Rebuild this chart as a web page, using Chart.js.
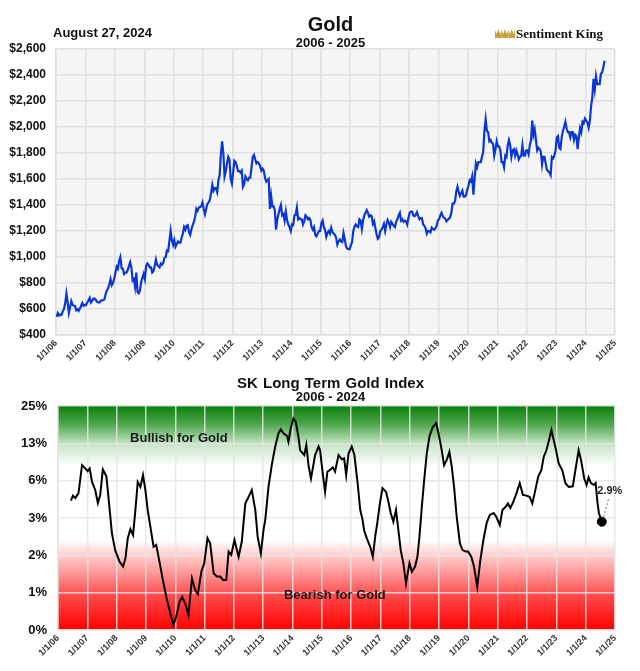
<!DOCTYPE html>
<html>
<head>
<meta charset="utf-8">
<script src="https://cdn.jsdelivr.net/npm/chart.js@4.4.1/dist/chart.umd.min.js"></script>
<style>
  body { margin: 0; background: #fff; }
  canvas { display: block; }
</style>
</head>
<body>
<canvas id="goldChart" width="640" height="365"></canvas>
<canvas id="indexChart" width="640" height="306"></canvas>
<script>
// gold, twice a month (mid / end of month) from Jan 2006 to Aug 2024
const goldStartYear = 2006;
const goldPrices = [
  540, 569, 550, 556, 555, 582, 600, 644, 720, 653, 570, 613, 660, 632, 625, 623, 590, 599, 585, 603, 625, 646, 625, 632,
  630, 650, 665, 685, 650, 662, 680, 680, 670, 655, 650, 650, 665, 665, 670, 673, 715, 743, 760, 790, 830, 783, 800, 834,
  880, 925, 910, 970, 1000, 915, 910, 870, 880, 880, 900, 930, 960, 920, 820, 830, 770, 880, 730, 720, 740, 810, 840, 870,
  830, 930, 950, 940, 920, 920, 880, 890, 930, 980, 940, 930, 920, 950, 940, 955, 995, 1000, 1050, 1045, 1120, 1200, 1130, 1095,
  1130, 1080, 1100, 1120, 1110, 1110, 1150, 1180, 1230, 1210, 1240, 1245, 1190, 1170, 1215, 1245, 1270, 1310, 1370, 1355, 1380, 1385, 1390, 1420,
  1370, 1330, 1370, 1410, 1420, 1440, 1490, 1555, 1510, 1530, 1530, 1500, 1590, 1630, 1790, 1890, 1800, 1620, 1660, 1720, 1770, 1750, 1600, 1565,
  1650, 1740, 1730, 1700, 1660, 1660, 1650, 1665, 1540, 1560, 1620, 1600, 1590, 1610, 1610, 1690, 1770, 1785, 1750, 1720, 1730, 1720, 1700, 1665,
  1680, 1665, 1610, 1580, 1590, 1600, 1370, 1470, 1390, 1390, 1360, 1210, 1290, 1330, 1370, 1400, 1320, 1330, 1280, 1350, 1285, 1250, 1230, 1200,
  1250, 1245, 1320, 1325, 1380, 1290, 1300, 1290, 1290, 1250, 1275, 1320, 1310, 1290, 1300, 1285, 1230, 1210, 1230, 1170, 1160, 1180, 1200, 1200,
  1260, 1280, 1230, 1210, 1155, 1185, 1200, 1180, 1225, 1190, 1180, 1170, 1150, 1095, 1120, 1135, 1120, 1115, 1185, 1140, 1085, 1065, 1060, 1060,
  1090, 1115, 1200, 1235, 1250, 1235, 1230, 1290, 1280, 1215, 1280, 1320, 1340, 1360, 1340, 1310, 1320, 1315, 1255, 1275, 1225, 1175, 1140, 1150,
  1200, 1210, 1230, 1255, 1200, 1250, 1285, 1265, 1230, 1270, 1255, 1240, 1230, 1270, 1290, 1320, 1340, 1280, 1290, 1270, 1280, 1275, 1250, 1300,
  1340, 1350, 1350, 1320, 1315, 1325, 1345, 1315, 1290, 1300, 1300, 1250, 1240, 1220, 1180, 1200, 1200, 1190, 1225, 1215, 1210, 1220, 1240, 1280,
  1290, 1320, 1340, 1315, 1300, 1295, 1275, 1285, 1295, 1305, 1340, 1410, 1410, 1430, 1500, 1540, 1500, 1470, 1490, 1510, 1465, 1465, 1475, 1520,
  1550, 1590, 1580, 1620, 1480, 1600, 1720, 1690, 1730, 1730, 1730, 1770, 1810, 1975, 2060, 1970, 1960, 1890, 1900, 1880, 1870, 1780, 1830, 1890,
  1850, 1850, 1820, 1730, 1730, 1690, 1780, 1770, 1860, 1900, 1860, 1770, 1820, 1830, 1780, 1820, 1790, 1750, 1770, 1780, 1860, 1780, 1780, 1820,
  1820, 1790, 1860, 1900, 2050, 1940, 1980, 1900, 1820, 1840, 1830, 1810, 1710, 1770, 1770, 1720, 1670, 1660, 1650, 1630, 1770, 1760, 1780, 1820,
  1920, 1930, 1840, 1830, 1920, 1970, 2000, 2040, 1990, 1960, 1960, 1920, 1960, 1960, 1900, 1940, 1930, 1830, 1920, 1990, 1960, 2040, 2030, 2065,
  2050, 2035, 1995, 2045, 2160, 2230, 2370, 2290, 2390, 2330, 2330, 2330, 2410, 2420, 2460, 2510
];

// SK long term gold index (decimal year, percent)
const indexDates = [
  2006.44, 2006.51, 2006.59, 2006.70, 2006.82, 2006.93, 2007.01, 2007.08, 2007.16, 2007.27,
  2007.36, 2007.44, 2007.53, 2007.65, 2007.73, 2007.84, 2007.95, 2008.10, 2008.22, 2008.30,
  2008.38, 2008.47, 2008.56, 2008.64, 2008.72, 2008.81, 2008.90, 2008.98, 2009.06, 2009.15,
  2009.26, 2009.35, 2009.47, 2009.60, 2009.72, 2009.83, 2009.94, 2010.03, 2010.15, 2010.24,
  2010.34, 2010.45, 2010.57, 2010.68, 2010.77, 2010.89, 2010.99, 2011.10, 2011.19, 2011.31,
  2011.42, 2011.53, 2011.63, 2011.74, 2011.82, 2011.91, 2012.02, 2012.16, 2012.27, 2012.39,
  2012.50, 2012.61, 2012.73, 2012.81, 2012.92, 2013.01, 2013.07, 2013.18, 2013.30, 2013.41,
  2013.52, 2013.60, 2013.69, 2013.81, 2013.86, 2013.94, 2014.03, 2014.11, 2014.20, 2014.26,
  2014.40, 2014.47, 2014.55, 2014.63, 2014.77, 2014.89, 2014.94, 2015.03, 2015.11, 2015.19,
  2015.28, 2015.37, 2015.45, 2015.57, 2015.68, 2015.76, 2015.83, 2015.91, 2016.02, 2016.11,
  2016.22, 2016.31, 2016.39, 2016.44, 2016.53, 2016.65, 2016.74, 2016.82, 2016.89, 2016.98,
  2017.07, 2017.19, 2017.27, 2017.35, 2017.44, 2017.53, 2017.61, 2017.69, 2017.78, 2017.87,
  2017.99, 2018.07, 2018.18, 2018.26, 2018.33, 2018.41, 2018.49, 2018.58, 2018.67, 2018.78,
  2018.90, 2018.98, 2019.09, 2019.17, 2019.26, 2019.35, 2019.43, 2019.51, 2019.60, 2019.71,
  2019.80, 2019.91, 2019.99, 2020.10, 2020.19, 2020.30, 2020.40, 2020.51, 2020.62, 2020.73,
  2020.86, 2020.95, 2021.07, 2021.16, 2021.27, 2021.35, 2021.43, 2021.53, 2021.64, 2021.75,
  2021.86, 2021.98, 2022.09, 2022.18, 2022.26, 2022.38, 2022.49, 2022.57, 2022.66, 2022.75,
  2022.83, 2022.88, 2022.99, 2023.08, 2023.20, 2023.31, 2023.42, 2023.56, 2023.65, 2023.76,
  2023.84, 2023.95, 2024.03, 2024.10, 2024.18, 2024.28, 2024.34, 2024.40, 2024.45, 2024.55
];
const indexValues = [
  4.4, 4.8, 4.6, 5.0, 8.9, 8.3, 7.8, 8.3, 5.9, 5.25,
  4.2, 4.85, 8.1, 6.8, 4.45, 2.59, 2.14, 1.83, 1.70, 1.92,
  2.46, 2.70, 2.54, 3.64, 5.9, 5.5, 7.05, 5.25, 3.64, 2.77,
  2.23, 2.28, 1.79, 1.25, 0.80, 0.45, 0.13, 0.36, 0.76, 0.89,
  0.71, 0.40, 1.38, 1.07, 0.96, 1.56, 1.79, 2.46, 2.32, 1.52,
  1.43, 1.43, 1.34, 1.34, 2.10, 2.01, 2.41, 1.96, 2.37, 4.17,
  4.7, 5.25, 3.64, 2.5, 2.05, 2.68, 2.95, 5.5, 9.2, 12.4,
  16.2, 17.5, 16.2, 15.4, 13.5, 17.9, 21.0, 20.0, 15.2, 11.7,
  10.8, 12.7, 8.7, 6.4, 10.8, 12.4, 11.7, 7.4, 5.1, 7.7,
  8.0, 8.5, 7.7, 10.8, 10.0, 10.2, 7.05, 11.1, 12.4, 10.8,
  5.8, 3.64, 2.95, 2.68, 2.46, 2.23, 1.96, 2.5, 2.86, 4.17,
  5.4, 5.1, 4.3, 3.4, 2.90, 3.64, 2.68, 2.14, 1.79, 1.25,
  1.79, 1.56, 1.70, 1.96, 2.5, 3.9, 6.1, 11.1, 15.2, 18.2,
  19.5, 16.2, 11.7, 8.9, 9.9, 11.4, 8.7, 5.5, 3.1, 2.32,
  2.14, 2.10, 2.10, 1.96, 1.70, 1.16, 1.83, 2.41, 2.86, 3.25,
  3.4, 3.1, 2.81, 3.64, 3.9, 4.17, 3.8, 4.3, 5.0, 5.8,
  4.85, 4.8, 4.7, 4.17, 5.0, 6.75, 8.0, 10.5, 11.7, 14.1,
  17.3, 15.2, 11.7, 9.2, 8.0, 5.8, 5.5, 5.55, 8.0, 11.7,
  9.9, 6.4, 5.65, 6.6, 5.8, 5.65, 5.8, 4.3, 3.4, 2.9
];

// the index axis is spaced evenly between these tick values
const indexTickValues = [0, 1, 2, 3, 6, 13, 25];
const indexTickLabels = ['0%', '1%', '2%', '3%', '6%', '13%', '25%'];

const FONT = '"Liberation Sans", Arial, sans-serif';

function indexPos(v) {
    for (let i = 0; i < indexTickValues.length - 1; i++) {
        const a = indexTickValues[i], b = indexTickValues[i + 1];
        if (v <= b) return i + (v - a) / (b - a);
    }
    return indexTickValues.length - 1;
}

function yearLabel(v) {
    return '1/1/' + String(v - 2000).padStart(2, '0');
}

const xTicks = {
    stepSize: 1,
    autoSkip: false,
    maxRotation: 45,
    minRotation: 45,
    padding: 3,
    color: '#333',
    font: { family: FONT, size: 9, weight: 'bold' },
    callback: v => yearLabel(v)
};

function drawText(ctx, text, x, y, font, align, color) {
    ctx.save();
    ctx.font = font;
    ctx.textAlign = align || 'center';
    ctx.textBaseline = 'alphabetic';
    ctx.fillStyle = color || '#111';
    ctx.fillText(text, x, y);
    ctx.restore();
}

const goldDecor = {
    id: 'goldDecor',
    beforeDraw(chart) {
        const { ctx, chartArea: a } = chart;
        ctx.save();
        ctx.fillStyle = '#f5f5f5';
        ctx.fillRect(a.left, a.top, a.right - a.left, a.bottom - a.top);
        ctx.restore();
    },
    afterDraw(chart) {
        const { ctx, chartArea: a } = chart;
        const cx = (a.left + a.right) / 2 - 5;
        drawText(ctx, 'Gold', cx, 31, 'bold 20px ' + FONT);
        drawText(ctx, '2006 - 2025', cx, 46.5, 'bold 13px ' + FONT);
        drawText(ctx, 'August 27, 2024', 53, 37, 'bold 13px ' + FONT, 'left');
        // logo: little crowns + name
        ctx.save();
        ctx.fillStyle = '#c9a13b';
        for (let k = 0; k < 3; k++) {
            const x = 495 + k * 6.7;
            ctx.beginPath();
            ctx.moveTo(x, 38);
            ctx.lineTo(x, 30);
            ctx.lineTo(x + 1.7, 34);
            ctx.lineTo(x + 3.3, 29);
            ctx.lineTo(x + 5, 34);
            ctx.lineTo(x + 6.6, 30);
            ctx.lineTo(x + 6.6, 38);
            ctx.closePath();
            ctx.fill();
        }
        ctx.restore();
        drawText(ctx, 'Sentiment King', 516, 37.5, 'bold 13px "Liberation Serif", serif', 'left', '#111');
    }
};

new Chart(document.getElementById('goldChart'), {
    type: 'line',
    data: {
        datasets: [{
            data: goldPrices.map((v, i) => ({ x: goldStartYear + (i + 0.5) / 24, y: v })),
            borderColor: '#0a37d2',
            borderWidth: 2.2,
            pointRadius: 0,
            tension: 0
        }]
    },
    options: {
        responsive: false,
        animation: false,
        layout: { padding: { top: 49, right: 25, left: 0, bottom: 0 } },
        plugins: { legend: { display: false }, tooltip: { enabled: false } },
        scales: {
            x: {
                type: 'linear',
                min: 2006,
                max: 2025,
                ticks: xTicks,
                grid: { color: '#e0e0e0', lineWidth: 1.5, drawTicks: false },
                border: { color: '#e0e0e0', width: 1.5 },
                afterFit: s => { s.height = 30; }
            },
            y: {
                min: 400,
                max: 2600,
                ticks: {
                    stepSize: 200,
                    padding: 10,
                    color: '#111',
                    font: { family: FONT, size: 12, weight: 'bold' },
                    callback: v => '$' + v.toLocaleString('en-US')
                },
                grid: { color: '#e0e0e0', lineWidth: 1.5, drawTicks: false },
                border: { color: '#e0e0e0', width: 1.5 },
                afterFit: s => { s.width = 56; }
            }
        }
    },
    plugins: [goldDecor]
});

const indexDecor = {
    id: 'indexDecor',
    beforeDraw(chart) {
        const { ctx, chartArea: a } = chart;
        const g = ctx.createLinearGradient(0, a.top, 0, a.bottom);
        g.addColorStop(0, '#0b7f0b');
        g.addColorStop(0.08, '#4da64d');
        g.addColorStop(0.17, '#c6e5c6');
        g.addColorStop(0.27, '#ffffff');
        g.addColorStop(0.6, '#ffffff');
        g.addColorStop(0.66, '#ffd2d2');
        g.addColorStop(0.75, '#ff9494');
        g.addColorStop(0.85, '#ff4848');
        g.addColorStop(1, '#ff0000');
        ctx.save();
        ctx.fillStyle = g;
        ctx.fillRect(a.left, a.top, a.right - a.left, a.bottom - a.top);
        ctx.restore();
    },
    beforeDatasetsDraw(chart) {
        const { ctx, chartArea: a } = chart;
        const w = a.right - a.left, h = a.bottom - a.top;
        drawText(ctx, 'Bullish for Gold', a.left + w * 0.217, a.top + h * 0.138 + 5, 'bold 13px ' + FONT, 'center', '#1a1a1a');
        drawText(ctx, 'Bearish for Gold', a.left + w * 0.497, a.top + h * 0.84 + 5, 'bold 13px ' + FONT, 'center', '#1a1a1a');
    },
    afterDraw(chart) {
        const { ctx, chartArea: a } = chart;
        const cx = (a.left + a.right) / 2 - 6;
        ctx.save();
        ctx.font = 'bold 15px ' + FONT;
        ctx.wordSpacing = '1px';
        ctx.textAlign = 'center';
        ctx.fillStyle = '#111';
        ctx.fillText('SK Long Term Gold Index', cx, 22.7);
        ctx.restore();
        drawText(ctx, '2006 - 2024', cx, 36, 'bold 13px ' + FONT);

        // last reading callout
        const last = indexValues[indexValues.length - 1];
        const px = chart.scales.x.getPixelForValue(indexDates[indexDates.length - 1]);
        const py = chart.scales.y.getPixelForValue(indexPos(last));
        ctx.save();
        ctx.strokeStyle = '#777';
        ctx.lineWidth = 1;
        ctx.setLineDash([2, 2]);
        ctx.beginPath();
        ctx.moveTo(px + 2, py - 5);
        ctx.lineTo(px + 7, py - 24);
        ctx.stroke();
        ctx.restore();
        drawText(ctx, last.toFixed(1) + '%', px + 8, py - 28, 'bold 11px ' + FONT, 'center', '#222');
    }
};

new Chart(document.getElementById('indexChart'), {
    type: 'line',
    data: {
        datasets: [{
            data: indexDates.map((d, i) => ({ x: d, y: indexPos(indexValues[i]) })),
            borderColor: '#000',
            borderWidth: 2,
            pointRadius: 0,
            tension: 0
        }, {
            data: [{ x: indexDates[indexDates.length - 1], y: indexPos(indexValues[indexValues.length - 1]) }],
            pointRadius: 4.5,
            pointBackgroundColor: '#000',
            pointBorderColor: '#000',
            showLine: false
        }]
    },
    options: {
        responsive: false,
        animation: false,
        layout: { padding: { top: 41, right: 25, left: 0, bottom: 0 } },
        plugins: { legend: { display: false }, tooltip: { enabled: false } },
        scales: {
            x: {
                type: 'linear',
                min: 2006,
                max: 2025,
                ticks: xTicks,
                grid: { color: 'rgba(228,228,228,0.85)', lineWidth: 1.5, drawTicks: false },
                border: { color: 'rgba(228,228,228,0.85)', width: 1.5 },
                afterFit: s => { s.height = 41; }
            },
            y: {
                min: 0,
                max: 6,
                ticks: {
                    stepSize: 1,
                    padding: 11,
                    color: '#111',
                    font: { family: FONT, size: 13, weight: 'bold' },
                    callback: v => indexTickLabels[v]
                },
                grid: { color: 'rgba(228,228,228,0.85)', lineWidth: 1.5, drawTicks: false },
                border: { color: 'rgba(228,228,228,0.85)', width: 1.5 },
                afterFit: s => { s.width = 58; }
            }
        }
    },
    plugins: [indexDecor]
});
</script>
</body>
</html>
